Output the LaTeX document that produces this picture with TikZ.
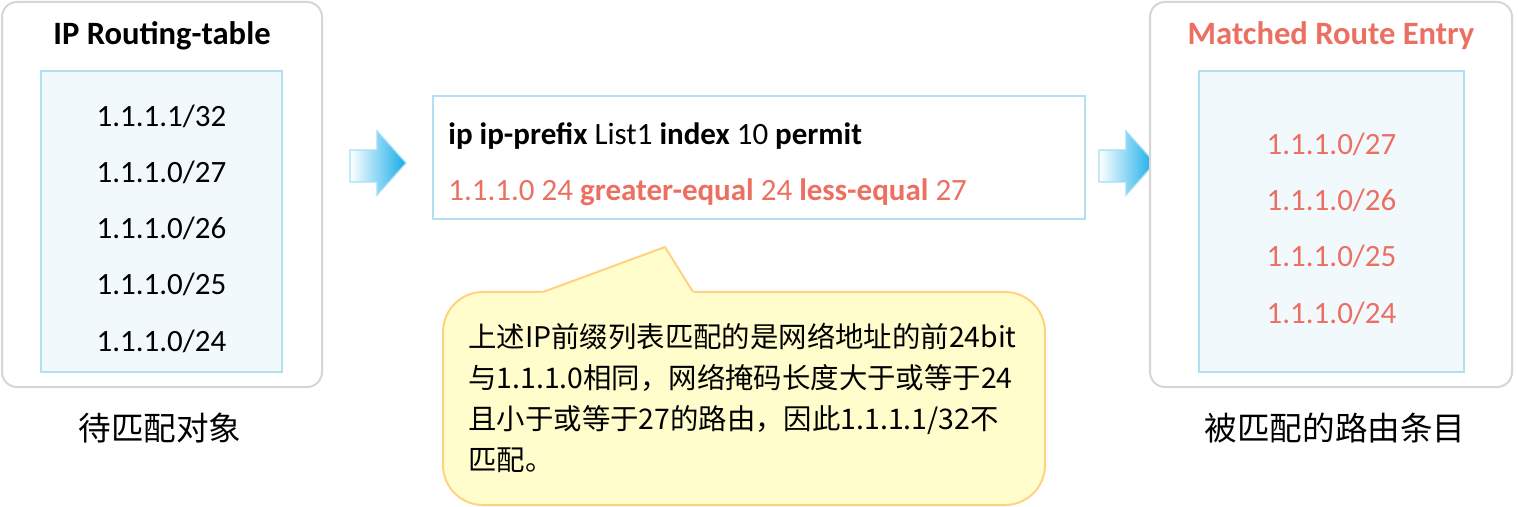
\documentclass[tikz,border=0pt]{standalone}
\usepackage{fontspec}
\setmainfont{Carlito}
\newfontfamily\cjk{Noto Sans CJK SC}
\usepackage{xcolor}
\usepackage{tikz}
\usetikzlibrary{positioning}
\definecolor{routered}{RGB}{236, 112, 98}
\definecolor{framegray}{RGB}{214, 214, 214}
\definecolor{listline}{RGB}{178, 224, 240}
\definecolor{listfill}{RGB}{242, 249, 253}
\definecolor{notefill}{RGB}{255, 253, 204}
\definecolor{noteline}{RGB}{255, 210, 130}
\definecolor{arrowblue}{RGB}{20, 172, 232}
\definecolor{arrowline}{RGB}{165, 222, 244}

% block arrow, #1 = left end of the shaft
\newcommand{\blockarrow}[1]{%
  \path[left color=white, middle color=arrowblue!28, right color=arrowblue, draw=arrowline, line width=0.6pt, line join=miter]
    (#1,150) -- ++(27,0) -- ++(0,-19) -- ++(29,32) -- ++(-29,32) -- ++(0,-13) -- ++(-27,0) -- cycle;}

\begin{document}
\begin{tikzpicture}[
    x=0.5pt, y=-0.5pt,
    framebox/.style={draw=framegray, line width=1pt, rounded corners=7.5pt, fill=white, minimum height=192.5pt},
    listbox/.style={draw=listline, line width=0.8pt, fill=listfill, minimum height=150.5pt},
    title/.style={font=\fontsize{16.3}{18}\selectfont\bfseries},
    entry/.style={font=\fontsize{15.5}{18}\selectfont},
    caption/.style={font=\cjk\fontsize{16.3}{18}\selectfont},
    note/.style={draw=noteline, fill=notefill, line width=1pt, rounded corners=20pt, minimum width=301pt, minimum height=106.5pt}
]
    \useasboundingbox (0,0) rectangle (1518,507);

    % Routing table
    \node[framebox, minimum width=160pt] (table) at (162,194.5) {};
    \node[title] (tabletitle) at (162,36) {IP Routing-table};
    \node[listbox, minimum width=120.5pt] (tablelist) at (161.5,221.5) {};
    \node[entry] (l1) at (161.5,116) {1.1.1.1/32};
    \foreach \m [count=\i from 2] in {27,26,25,24}
        \node[entry] (l\i) at (161.5,{116+56.25*(\i-1)}) {1.1.1.0/\m};
    \node[caption] (tablecap) at (160,428) {待匹配对象};

    % Arrows
    \blockarrow{350}
    \blockarrow{1099}

    % ip-prefix rule
    \node[draw=listline, line width=0.8pt, fill=white, minimum width=326pt, minimum height=61.5pt] (rule) at (759,157.5) {};
    \node[entry, anchor=west, inner sep=0pt] (rule1) at (448,136)
        {\textbf{ip ip-prefix} List1 \textbf{index} 10 \textbf{permit}};
    \node[entry, anchor=west, inner sep=0pt, text=routered] (rule2) at (448,192)
        {1.1.1.0 24 \textbf{greater-equal} 24 \textbf{less-equal} 27};

    % Note
    \node[note] (note) at (744,398.5) {};
    \fill[notefill] (541,293.3) -- (543,292) -- (665,247) -- (693,292) -- (695,293.3) -- cycle;
    \draw[noteline, line width=1pt, line join=round] (543,292) -- (665,247) -- (693,292);
    \node[anchor=north west, inner sep=0pt, align=left, font=\cjk\fontsize{14.2}{20.5}\selectfont] (notetext) at (468,323)
        {上述IP前缀列表匹配的是网络地址的前24bit\\与1.1.1.0相同，网络掩码长度大于或等于24\\且小于或等于27的路由，因此1.1.1.1/32不\\匹配。};

    % Matched entries
    \node[framebox, minimum width=181pt] (matched) at (1331,194.5) {};
    \node[title, text=routered] (matchedtitle) at (1331,36) {Matched Route Entry};
    \node[listbox, minimum width=132.5pt] (matchedlist) at (1331.5,221.5) {};
    \foreach \m [count=\i] in {27,26,25,24}
        \node[entry, text=routered] (r\i) at (1331.5,{144+56.33*(\i-1)}) {1.1.1.0/\m};
    \node[caption] (matchedcap) at (1335,428) {被匹配的路由条目};
\end{tikzpicture}
\end{document}
